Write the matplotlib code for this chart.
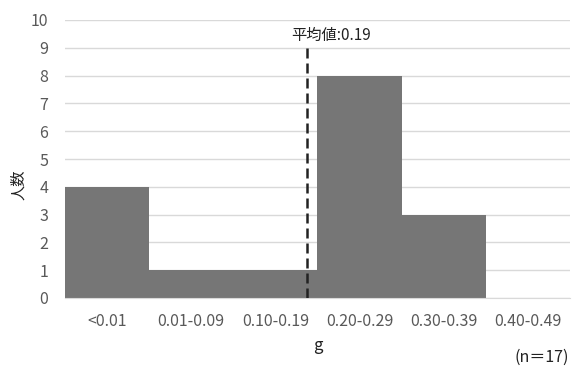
import matplotlib
matplotlib.use("Agg")
import matplotlib.pyplot as plt

plt.rcParams['font.family'] = ['Noto Sans CJK JP', 'DejaVu Sans']

categories = ["<0.01", "0.01-0.09", "0.10-0.19", "0.20-0.29", "0.30-0.39", "0.40-0.49"]
counts = [4, 1, 1, 8, 3, 0]
mean_pos = 2.38   # position of mean 0.19 on category axis
mean_label = "平均値:0.19"
n_label = "(n＝17)"

fig = plt.figure(figsize=(5.72, 3.67), dpi=100)
ax = fig.add_axes([65/572, 1-298/367, 505/572, 278/367])

x = list(range(len(categories)))
ax.bar(x, counts, width=1.0, color="#767676", edgecolor="none", zorder=2)
ax.set_xlim(-0.5, 5.5)
ax.set_ylim(0, 10)
ax.set_yticks(range(0, 11))
ax.set_xticks(x)
ax.set_xticklabels(categories)
ax.yaxis.grid(True, color="#d9d9d9", linewidth=1, zorder=0)
ax.set_axisbelow(True)
for s in ["top", "right", "left"]:
    ax.spines[s].set_visible(False)
ax.spines["bottom"].set_color("#d9d9d9")
ax.tick_params(axis="both", length=0, labelsize=11.5, colors="#595959")
ax.tick_params(axis="x", pad=11)
ax.tick_params(axis="y", pad=12)

ax.vlines(mean_pos, 0, 9, colors="#222222", linestyles=(0, (4, 2)), linewidth=1.8, zorder=3)
ax.text(mean_pos + 0.28, 9.45, mean_label, ha="center", va="center", fontsize=11, color="#222222")

fig.text(19/572, 1-185/367, "人数", rotation=90, ha="center", va="center", fontsize=11, color="#222222")
ax.set_xlabel("g", fontsize=12, color="#222222", labelpad=5)
fig.text(569/572, 1-357/367, n_label, ha="right", va="center", fontsize=11.5, color="#222222")

fig.savefig("out.png", dpi=100)
